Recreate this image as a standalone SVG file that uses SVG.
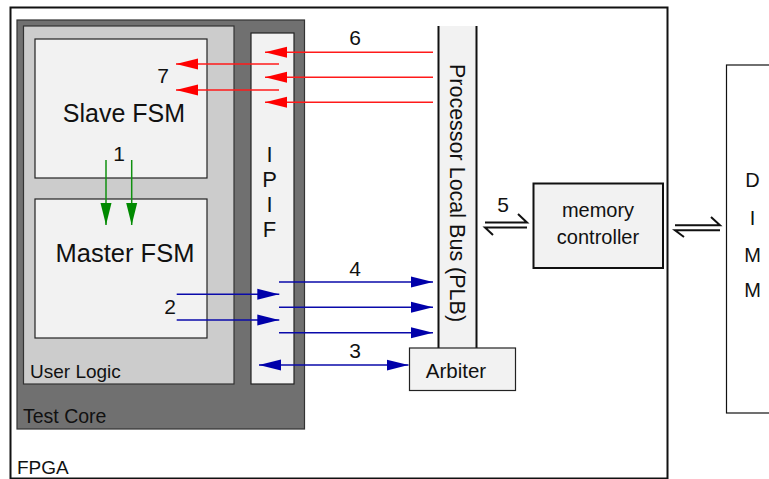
<svg xmlns="http://www.w3.org/2000/svg" width="769" height="479" viewBox="0 0 769 479">
<style>
text{font-family:"Liberation Sans",Arial,sans-serif;fill:#111}
.box{fill:#f2f2f2;stroke:#222;stroke-width:1.2}
.red{stroke:#ff1a1a;stroke-width:1.5;fill:none}
.blue{stroke:#0a0aaa;stroke-width:1.5;fill:none}
.green{stroke:#109010;stroke-width:1.5;fill:none}
.eq{stroke:#111;stroke-width:2;fill:none}
</style>
<defs>
<marker id="ar" markerUnits="userSpaceOnUse" markerWidth="22" markerHeight="12" refX="22" refY="5.5" orient="auto-start-reverse" viewBox="0 0 22 11"><path d="M0,0 L22,5.5 L0,11 z" fill="#ff0000"/></marker>
<marker id="ab" markerUnits="userSpaceOnUse" markerWidth="22" markerHeight="12" refX="22" refY="5.5" orient="auto-start-reverse" viewBox="0 0 22 11"><path d="M0,0 L22,5.5 L0,11 z" fill="#0000aa"/></marker>
<marker id="ag" markerUnits="userSpaceOnUse" markerWidth="22" markerHeight="12" refX="22" refY="5.5" orient="auto-start-reverse" viewBox="0 0 22 11"><path d="M0,0 L22,5.5 L0,11 z" fill="#008a00"/></marker>
</defs>
<rect width="769" height="479" fill="#fff"/>
<g id="fpga">
<rect x="10.5" y="7.5" width="657" height="471" fill="#fff" stroke="#111" stroke-width="2"/>
<text x="17" y="474" font-size="19">FPGA</text>
</g>
<g id="testcore">
<rect x="17" y="20" width="287.5" height="409" fill="#707070" stroke="#333" stroke-width="1.2"/>
<text x="23" y="422.5" font-size="19.5">Test Core</text>
</g>
<g id="userlogic">
<rect x="23.5" y="26" width="210.5" height="358" fill="#cccccc" stroke="#333" stroke-width="1.2"/>
<text x="30" y="377.5" font-size="19">User Logic</text>
</g>
<g id="slavefsm">
<rect class="box" x="35" y="39" width="172" height="139"/>
<text x="124" y="121.5" font-size="25" text-anchor="middle">Slave FSM</text>
</g>
<g id="masterfsm">
<rect class="box" x="35" y="199" width="172" height="139"/>
<text x="125" y="261.5" font-size="25.5" text-anchor="middle">Master FSM</text>
</g>
<g id="ipif">
<rect class="box" x="251" y="33" width="43" height="351"/>
<g font-size="22" text-anchor="middle">
<text x="269.5" y="161.5">I</text>
<text x="269.5" y="186.5">P</text>
<text x="269.5" y="211.5">I</text>
<text x="269.5" y="236.5">F</text>
</g>
</g>
<g id="plb">
<rect x="438.5" y="26" width="38" height="322" fill="#f2f2f2"/>
<line x1="438.5" y1="26" x2="438.5" y2="348" stroke="#111" stroke-width="2"/>
<line x1="476.5" y1="26" x2="476.5" y2="348" stroke="#111" stroke-width="2"/>
<text transform="translate(450,193) rotate(90)" font-size="21.5" text-anchor="middle">Processor Local Bus (PLB)</text>
</g>
<g id="arbiter">
<rect class="box" x="409.5" y="348" width="106" height="42.5" stroke-width="1.4"/>
<text x="456" y="378" font-size="20.5" text-anchor="middle">Arbiter</text>
</g>
<g id="memctrl">
<rect x="533.5" y="183.5" width="129.5" height="84.5" fill="#f2f2f2" stroke="#111" stroke-width="2"/>
<text x="598" y="216.5" font-size="20" text-anchor="middle">memory</text>
<text x="598" y="243.5" font-size="20" text-anchor="middle">controller</text>
</g>
<g id="dimm">
<rect x="726.5" y="65" width="60" height="348" fill="#fff" stroke="#111" stroke-width="1.2"/>
<g font-size="20" text-anchor="middle">
<text x="752.5" y="187">D</text>
<text x="752.5" y="225">I</text>
<text x="752.5" y="262">M</text>
<text x="752.5" y="297">M</text>
</g>
</g>
<g id="connectors">
<line class="red" x1="433" y1="52.3" x2="265" y2="52.3" marker-end="url(#ar)"/>
<line class="red" x1="433" y1="77.3" x2="265" y2="77.3" marker-end="url(#ar)"/>
<line class="red" x1="433" y1="102.3" x2="265" y2="102.3" marker-end="url(#ar)"/>
<line class="red" x1="279" y1="64" x2="176" y2="64" marker-end="url(#ar)"/>
<line class="red" x1="279" y1="90" x2="176" y2="90" marker-end="url(#ar)"/>
<line class="green" x1="106" y1="160" x2="106" y2="225" marker-end="url(#ag)"/>
<line class="green" x1="131.7" y1="160" x2="131.7" y2="225" marker-end="url(#ag)"/>
<line class="blue" x1="279" y1="282" x2="433" y2="282" marker-end="url(#ab)"/>
<line class="blue" x1="279" y1="307.3" x2="433" y2="307.3" marker-end="url(#ab)"/>
<line class="blue" x1="279" y1="332.7" x2="433" y2="332.7" marker-end="url(#ab)"/>
<line class="blue" x1="176.7" y1="294.3" x2="279.3" y2="294.3" marker-end="url(#ab)"/>
<line class="blue" x1="176.7" y1="320" x2="279.3" y2="320" marker-end="url(#ab)"/>
<line class="blue" x1="259" y1="365" x2="408.5" y2="365" marker-start="url(#ab)" marker-end="url(#ab)"/>
<path class="eq" d="M485,222.5 H527 L518,214 M527,227.5 H485 L493,235"/>
<path class="eq" d="M675,225.3 H720 L711,217 M720,230.3 H675 L684,237"/>
<g font-size="21" text-anchor="middle">
<text x="355" y="45">6</text>
<text x="163" y="83">7</text>
<text x="119" y="161">1</text>
<text x="170" y="314">2</text>
<text x="355" y="276">4</text>
<text x="355" y="358">3</text>
<text x="503" y="212">5</text>
</g>
</g>
</svg>
